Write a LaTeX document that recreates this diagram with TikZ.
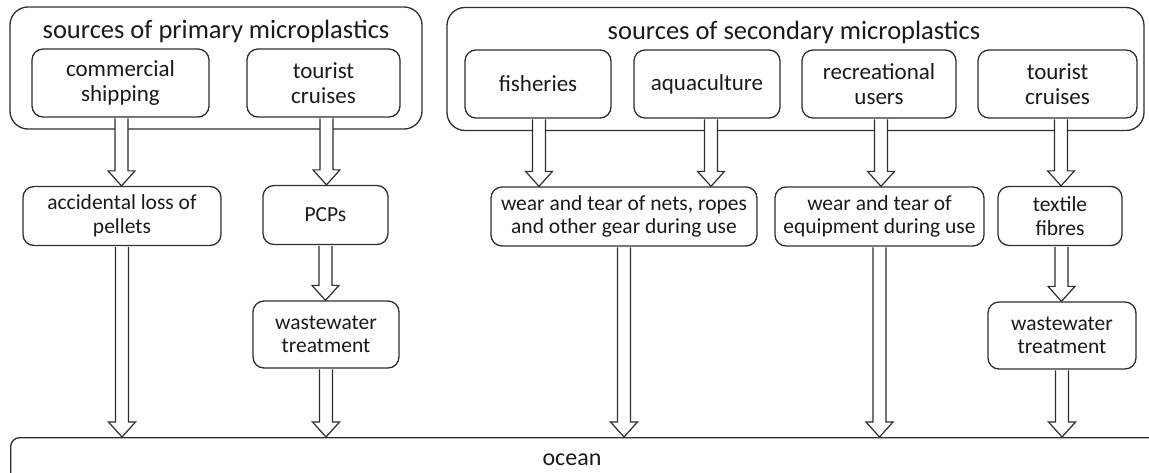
\documentclass[tikz,border=0pt]{standalone}
\usepackage{fontspec}
\setmainfont{Carlito}
\usetikzlibrary{calc}
\definecolor{linec}{HTML}{2E2E2E}
\definecolor{txt}{HTML}{1A1A1A}
\begin{document}
\begin{tikzpicture}[x=1pt,y=-1pt,
  box/.style={draw=linec, line width=1.3pt, rounded corners=11pt, align=center, inner sep=0pt, text=txt},
  outer/.style={draw=linec, line width=1.3pt, rounded corners=18pt, inner sep=0pt},
  title/.style={text=txt, inner sep=0pt, anchor=base, font=\fontsize{26.5}{28}\selectfont},
  topbox/.style={box, minimum height=68pt, font=\fontsize{23}{25}\selectfont},
  midbox/.style={box, minimum height=59pt, font=\fontsize{21.5}{23.5}\selectfont},
  wwbox/.style={box, minimum height=67pt, font=\fontsize{21.5}{23.5}\selectfont},
  blk/.style={draw=linec, fill=white, line width=1.2pt, line join=miter,
    to path={let \p1=(\tikztostart), \p2=(\tikztotarget) in
      (\x1-6.5pt,\y1-0.7pt) -- (\x1-6.5pt,\y2+15pt) -- (\x1-13.5pt,\y2+15pt) -- (\x1,\y2)
      -- (\x1+13.5pt,\y2+15pt) -- (\x1+6.5pt,\y2+15pt) -- (\x1+6.5pt,\y1-0.7pt)}}
]
\useasboundingbox (0,0) rectangle (1149,472);
\clip (0,0) rectangle (1149,472);

% outer groups
\node[outer, minimum width=412pt, minimum height=122pt] (prim) at (216,68) {};
\node[outer, minimum width=697pt, minimum height=123pt] (sec) at (795.5,69) {};
\node[title] (primt) at (216,38) {sources of primary microplastics};
\node[title] (sect) at (794,39) {sources of secondary microplastics};

% sources
\node[topbox, minimum width=177pt] (com) at (120.5,83) {commercial\\shipping};
\node[topbox, minimum width=153pt] (tca) at (323.5,83) {tourist\\cruises};
\node[topbox, minimum width=146pt] (fish) at (538,84) {fisheries};
\node[topbox, minimum width=146pt] (aqua) at (707,84) {aquaculture};
\node[topbox, minimum width=154pt] (rec) at (879,84) {recreational\\users};
\node[topbox, minimum width=159pt] (tcb) at (1057.5,84) {tourist\\cruises};

% processes
\node[midbox, minimum width=198pt] (acc) at (122,216) {accidental loss of\\pellets};
\node[midbox, minimum width=125pt] (pcp) at (325.5,215) {PCPs};
\node[midbox, minimum width=266pt] (nets) at (624,216.5) {wear and tear of nets, ropes\\and other gear during use};
\node[midbox, minimum width=209pt] (equip) at (879.5,216.5) {wear and tear of\\equipment during use};
\node[midbox, minimum width=124pt] (tex) at (1060,216) {textile\\fibres};

\node[wwbox, minimum width=146pt] (wwa) at (326,334.5) {wastewater\\treatment};
\node[wwbox, minimum width=148pt] (wwb) at (1062,335.5) {wastewater\\treatment};

% ocean
\node[box, rounded corners=9pt, minimum width=1180pt, minimum height=80pt, anchor=north west] (ocean) at (10,437) {};
\node[text=txt, inner sep=0pt, anchor=base, font=\fontsize{24}{26}\selectfont] (oceant) at (572,465) {ocean};

% arrows
\draw[blk] ([xshift=1pt]com.south) to ([xshift=1pt]com.south |- acc.north);
\draw[blk] ([xshift=3pt]tca.south) to ([xshift=3pt]tca.south |- pcp.north);
\draw[blk] ([xshift=1pt]fish.south) to ([xshift=1pt]fish.south |- nets.north);
\draw[blk] ([xshift=4pt]aqua.south) to ([xshift=4pt]aqua.south |- nets.north);
\draw[blk] ([xshift=2pt]rec.south) to ([xshift=2pt]rec.south |- equip.north);
\draw[blk] ([xshift=3.5pt]tcb.south) to ([xshift=3.5pt]tcb.south |- tex.north);

\draw[blk] (acc.south) to (acc.south |- ocean.north);
\draw[blk] (pcp.south) to (pcp.south |- wwa.north);
\draw[blk] (wwa.south) to (wwa.south |- ocean.north);
\draw[blk] (nets.south) to (nets.south |- ocean.north);
\draw[blk] (equip.south) to (equip.south |- ocean.north);
\draw[blk] ([xshift=1.5pt]tex.south) to ([xshift=1.5pt]tex.south |- wwb.north);
\draw[blk] (wwb.south) to (wwb.south |- ocean.north);
\end{tikzpicture}
\end{document}
